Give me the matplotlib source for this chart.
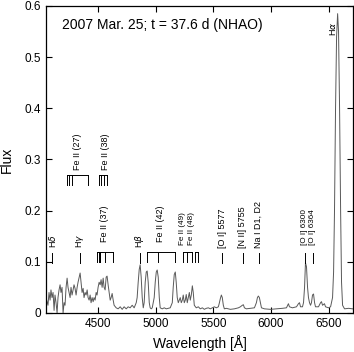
import matplotlib
matplotlib.use("Agg")
import matplotlib.pyplot as plt

plt.rcParams['font.family'] = ['Liberation Sans', 'DejaVu Sans']

# spectrum (wavelength in A, flux)
wave = [4048, 4065, 4074, 4083, 4091, 4100, 4109, 4118, 4126, 4135, 4144, 4152,
        4161, 4170, 4178, 4187, 4196, 4205, 4213, 4222, 4231, 4239, 4248, 4257,
        4265, 4274, 4283, 4291, 4300, 4309, 4318, 4326, 4344, 4352, 4361, 4370,
        4378, 4387, 4396, 4405, 4413, 4422, 4431, 4439, 4448, 4457, 4465, 4474,
        4483, 4491, 4500, 4509, 4518, 4526, 4535, 4544, 4552, 4561, 4570, 4578,
        4587, 4596, 4605, 4613, 4622, 4631, 4639, 4657, 4674, 4692, 4709, 4726,
        4744, 4761, 4778, 4796, 4813, 4831, 4839, 4848, 4857, 4865, 4874, 4883,
        4892, 4900, 4909, 4918, 4926, 4935, 4944, 4952, 4961, 4970, 4987, 4996,
        5005, 5013, 5022, 5031, 5039, 5057, 5074, 5092, 5109, 5126, 5144, 5152,
        5161, 5170, 5178, 5187, 5196, 5205, 5213, 5222, 5231, 5239, 5248, 5257,
        5265, 5274, 5283, 5292, 5300, 5309, 5318, 5326, 5335, 5352, 5370, 5387,
        5405, 5422, 5439, 5457, 5474, 5492, 5509, 5526, 5544, 5553, 5561, 5570,
        5578, 5587, 5596, 5613, 5648, 5683, 5718, 5735, 5752, 5761, 5770, 5787,
        5822, 5857, 5874, 5883, 5891, 5900, 5909, 5918, 5944, 5996, 6048, 6100,
        6135, 6152, 6161, 6187, 6222, 6239, 6248, 6257, 6274, 6283, 6292, 6300,
        6309, 6318, 6326, 6335, 6344, 6352, 6361, 6370, 6379, 6387, 6413, 6431,
        6439, 6448, 6465, 6474, 6500, 6518, 6535, 6544, 6552, 6561, 6570, 6579,
        6587, 6596, 6605, 6613, 6622, 6639, 6674, 6709]
flux = [0.030, 0.015, 0.040, 0.025, 0.045, 0.030, 0.040, 0.005, 0.035, 0.020, 0.000, 0.030,
        0.045, 0.055, 0.040, 0.050, 0.000, 0.020, 0.015, 0.050, 0.068, 0.050, 0.040, 0.030,
        0.050, 0.035, 0.045, 0.055, 0.048, 0.035, 0.050, 0.060, 0.078, 0.060, 0.040, 0.048,
        0.030, 0.040, 0.035, 0.045, 0.030, 0.025, 0.035, 0.020, 0.030, 0.022, 0.030, 0.025,
        0.040, 0.035, 0.050, 0.060, 0.055, 0.065, 0.050, 0.068, 0.050, 0.045, 0.070, 0.072,
        0.055, 0.040, 0.025, 0.030, 0.038, 0.025, 0.015, 0.010, 0.008, 0.012, 0.007, 0.012,
        0.008, 0.012, 0.010, 0.015, 0.010, 0.020, 0.030, 0.060, 0.085, 0.094, 0.070, 0.030,
        0.010, 0.020, 0.060, 0.080, 0.082, 0.060, 0.020, 0.010, 0.008, 0.010, 0.030, 0.060,
        0.080, 0.084, 0.070, 0.030, 0.010, 0.008, 0.010, 0.008, 0.009, 0.010, 0.020, 0.050,
        0.075, 0.080, 0.060, 0.030, 0.020, 0.025, 0.030, 0.020, 0.025, 0.035, 0.020, 0.025,
        0.036, 0.020, 0.030, 0.040, 0.025, 0.035, 0.053, 0.040, 0.015, 0.010, 0.012, 0.008,
        0.010, 0.007, 0.009, 0.010, 0.008, 0.010, 0.012, 0.010, 0.012, 0.020, 0.028, 0.035,
        0.030, 0.015, 0.008, 0.009, 0.007, 0.008, 0.010, 0.012, 0.015, 0.016, 0.010, 0.008,
        0.009, 0.010, 0.020, 0.030, 0.033, 0.030, 0.020, 0.010, 0.008, 0.007, 0.008, 0.009,
        0.010, 0.018, 0.012, 0.010, 0.012, 0.018, 0.020, 0.012, 0.012, 0.020, 0.050, 0.098,
        0.090, 0.050, 0.030, 0.020, 0.015, 0.020, 0.035, 0.037, 0.020, 0.012, 0.012, 0.020,
        0.022, 0.015, 0.018, 0.012, 0.010, 0.012, 0.030, 0.080, 0.200, 0.400, 0.540, 0.585,
        0.550, 0.400, 0.200, 0.060, 0.015, 0.008, 0.009, 0.008]

# single line identifications
single_names = ['H$\\delta$', 'H$\\gamma$', 'H$\\beta$', '[O I] 5577', '[N II] 5755', 'Na I D1, D2']
single_waves = [4102, 4340, 4861, 5577, 5755, 5893]

# bracketed multiplets (lower row)
group_names = ['Fe II (37)', 'Fe II (42)']
group_waves = [[4489, 4508, 4515, 4520, 4556, 4629], [4924, 5018, 5169]]
group_label_x = [4556, 5040]

# upper row multiplets
upper_names = ['Fe II (27)', 'Fe II (38)']
upper_waves = [[4233, 4251, 4273, 4416], [4508, 4522, 4549, 4576]]
upper_label_x = [4318, 4561]

# small crowded labels
small_names = ['Fe II (49)', 'Fe II (48)', '[O I] 6300', '[O I] 6364']
small_label_x = [5232, 5312, 6290, 6364]
fe_small_waves = [[5234, 5276, 5316], [5338, 5363]]
oi_waves = [6300, 6364]

fig = plt.figure(figsize=(3.54, 3.52), dpi=100)
ax = fig.add_axes([0.130, 0.111, 0.867, 0.872])

ax.plot(wave, flux, color='0.35', lw=0.7)

lc = 'black'
lw = 0.7


def bracket(ws, top, bot):
    ax.plot([ws[0], ws[-1]], [top, top], color=lc, lw=lw)
    for w in ws:
        ax.plot([w, w], [bot, top], color=lc, lw=lw)


for name, w in zip(single_names, single_waves):
    ax.plot([w, w], [0.098, 0.118], color=lc, lw=lw)
    ax.text(w, 0.127, name, rotation=90, ha='center', va='bottom', fontsize=6.5)

for name, ws, lx in zip(group_names, group_waves, group_label_x):
    bracket(ws, 0.12, 0.10)
    ax.text(lx, 0.138, name, rotation=90, ha='center', va='bottom', fontsize=6.5)

for name, ws, lx in zip(upper_names, upper_waves, upper_label_x):
    bracket(ws, 0.269, 0.251)
    ax.text(lx, 0.28, name, rotation=90, ha='center', va='bottom', fontsize=6.5)

for ws in fe_small_waves:
    bracket(ws, 0.12, 0.10)
for w in oi_waves:
    ax.plot([w, w], [0.098, 0.118], color=lc, lw=lw)
for name, lx in zip(small_names, small_label_x):
    ax.text(lx, 0.133, name, rotation=90, ha='center', va='bottom', fontsize=5.9)

ax.text(6535, 0.555, 'H$\\alpha$', rotation=90, ha='center', va='center', fontsize=6.5)

ax.text(0.052, 0.938, '2007 Mar. 25; t = 37.6 d (NHAO)', transform=ax.transAxes,
        ha='left', va='center', fontsize=10)

ax.set_xlim(4048, 6712)
ax.set_ylim(0, 0.6)
ax.set_xticks([4500, 5000, 5500, 6000, 6500])
ax.set_yticks([0, 0.1, 0.2, 0.3, 0.4, 0.5, 0.6])
ax.set_yticklabels(['0', '0.1', '0.2', '0.3', '0.4', '0.5', '0.6'])
ax.tick_params(direction='in', top=True, right=True, length=4, width=0.8, labelsize=8.5)
for s in ax.spines.values():
    s.set_linewidth(0.9)

ax.set_xlabel('Wavelength [Å]', fontsize=10)
ax.set_ylabel('Flux', fontsize=10, labelpad=8)

fig.savefig('out.png', dpi=100)
